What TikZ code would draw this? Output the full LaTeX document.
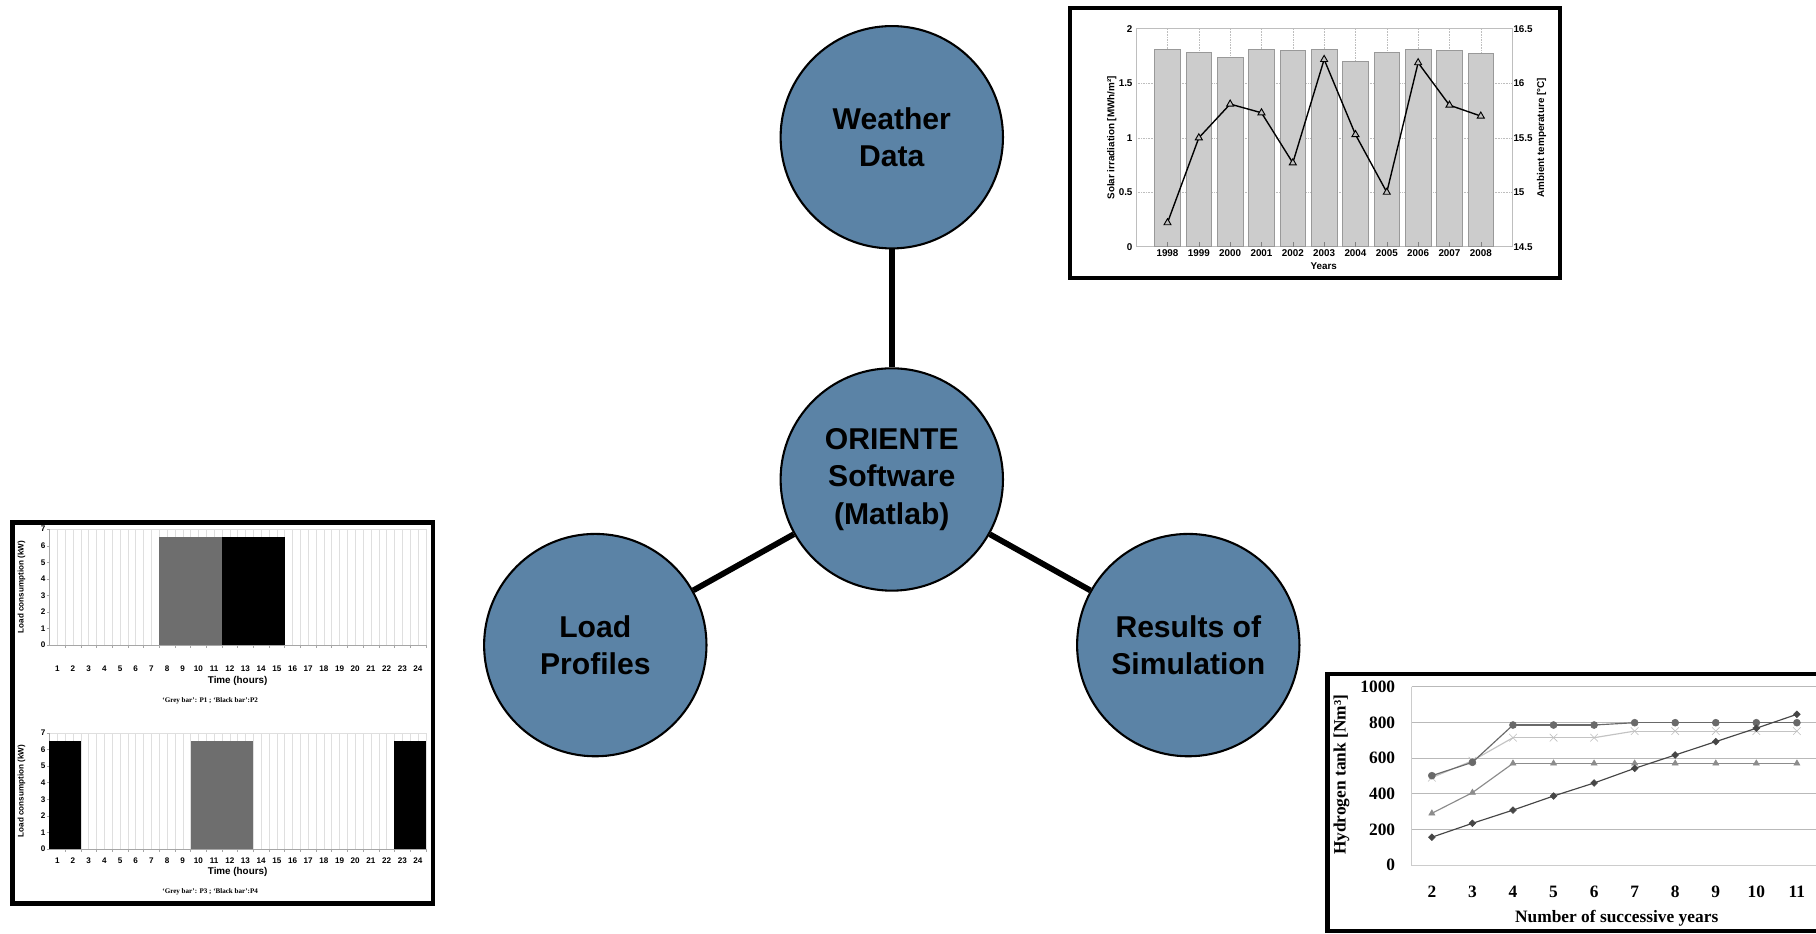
\documentclass[tikz,border=0pt]{standalone}
\usepackage{fontspec}
\setmainfont{Liberation Serif}
\setsansfont{Liberation Sans}
\usetikzlibrary{shapes.geometric,shapes.misc}

\definecolor{bubbleblue}{RGB}{91,131,166}
\definecolor{bargrey}{RGB}{204,204,204}
\definecolor{linegrey}{RGB}{190,190,190}
\definecolor{loadgrey}{RGB}{110,110,110}
\definecolor{hdark}{RGB}{70,70,70}
\definecolor{hmid}{RGB}{105,105,105}
\definecolor{hgrey}{RGB}{140,140,140}
\definecolor{hlight}{RGB}{195,195,195}

\begin{document}
\begin{tikzpicture}[x=1pt,y=-1pt]
	\tikzstyle{bubble} = [circle, minimum size=192pt, inner sep=0pt, draw=black, line width=1.8pt, fill=bubbleblue, align=center, font=\sffamily\bfseries\fontsize{26}{32.5}\selectfont]
	\tikzstyle{link}   = [line width=5pt]
	\tikzstyle{panel}  = [draw=black, line width=4pt, fill=white]
	\tikzstyle{wlabel} = [font=\sffamily\bfseries\fontsize{8.5}{10}\selectfont, inner sep=1pt]
	\tikzstyle{llabel} = [font=\sffamily\bfseries\fontsize{7}{8}\selectfont, inner sep=1pt]
	\tikzstyle{hlabel} = [font=\rmfamily\bfseries\fontsize{15}{18}\selectfont, inner sep=1pt]
	\tikzstyle{tri}    = [regular polygon, regular polygon sides=3, minimum size=7pt, inner sep=0pt, draw, line width=0.8pt]
	\tikzstyle{dia}    = [diamond, minimum size=6pt, inner sep=0pt, draw]
	\tikzstyle{hdot}   = [circle, minimum size=6.5pt, inner sep=0pt, draw]
	\tikzstyle{crs}    = [cross out, minimum size=5pt, inner sep=0pt, draw, line width=0.8pt]

	\useasboundingbox (0,0) rectangle (1568,805.6);

	% bubbles
	\node[bubble] (weather) at (770,118.5) {Weather\\Data};
	\node[bubble] (core)    at (770,414)   {ORIENTE\\Software\\(Matlab)};
	\node[bubble] (load)    at (514,557)   {Load\\Profiles};
	\node[bubble] (results) at (1026,557)  {Results of\\Simulation};

	\foreach \to in {weather, load, results}
		\draw[link] (core) -- (\to);

	% weather chart
	\draw[panel] (924,7) rectangle (1347,240);
	\begin{scope}[shift={(981,213)}, x=27.05pt, y=94pt]
		\foreach \i in {1,...,11}
			\draw[linegrey, densely dotted] (\i,0) -- (\i,2);
		\foreach \v in {0.5,1,1.5}
			\draw[linegrey, densely dotted] (0,\v) -- (12,\v);
		\draw[linegrey, line width=0.8pt] (0,0) rectangle (12,2);
		\foreach \h [count=\i] in {1.81,1.785,1.74,1.81,1.80,1.815,1.70,1.79,1.81,1.80,1.775}{
			\draw[fill=bargrey, draw=gray!80] (\i-0.41,0) rectangle (\i+0.41,\h);
			\draw[gray] (\i,0) -- (\i,0.04);
		}
		\foreach \yr/\t [count=\i] in {1998/14.72, 1999/15.50, 2000/15.81, 2001/15.73, 2002/15.27, 2003/16.22, 2004/15.53, 2005/15.00, 2006/16.19, 2007/15.80, 2008/15.70}{
			\coordinate (tp\i) at (\i,\t-14.5);
			\node[wlabel, below, yshift=-1pt] (yr\i) at (\i,0) {\yr};
		}
		\foreach \i [evaluate=\i as \j using int(\i+1)] in {1,...,10}
			\draw[line width=1.2pt] (tp\i) -- (tp\j);
		\foreach \i in {1,...,11}
			\node[tri, fill=gray!50] at (tp\i) {};
		\foreach \v/\l [count=\k] in {0/0, 0.5/0.5, 1/1, 1.5/1.5, 2/2}
			\node[wlabel, left, xshift=-2pt] (sl\k) at (0,\v) {\l};
		\foreach \v/\l [count=\k] in {0/14.5, 0.5/15, 1/15.5, 1.5/16, 2/16.5}
			\node[wlabel, right] (tr\k) at (12,\v) {\l};
	\end{scope}
	\node[wlabel] (years) at (1143,229.5) {Years};
	\node[wlabel, rotate=90] (irr) at (960,119) {Solar irradiation [MWh/m²]};
	\node[wlabel, rotate=90] (amb) at (1331,119) {Ambient temperature [°C]};

	% load profiles
	\draw[panel] (11,451) rectangle (373.8,780);
	\foreach \base/\hy/\ty/\cy/\pa/\pb in {557/20/31/48/P1/P2, 733/10/19.6/37/P3/P4}{
		\begin{scope}[shift={(42.7,\base)}, x=13.54pt, y=14.3pt]
			\foreach \g in {1,...,48}
				\draw[gray!25] (\g/2,0) -- (\g/2,7);
			\draw[gray!25] (0,7) -- (24,7);
			\draw[gray!70] (0,7) -- (0,0) -- (24,0);
			\foreach \k in {0,...,7}{
				\draw[gray!70] (-0.17,\k) -- (0,\k);
				\node[llabel, left] (kw\base-\k) at (-0.17,\k) {\k};
			}
			\foreach \h in {1,...,24}{
				\draw[gray!70] (\h,0) -- (\h,-0.2);
				\node[llabel, yshift=-\hy pt] (hr\base-\h) at (\h-0.5,0) {\h};
			}
			\node[llabel, font=\sffamily\bfseries\fontsize{8.5}{10}\selectfont, yshift=-\ty pt] (time\base) at (12,0) {Time (hours)};
			\node[llabel, font=\rmfamily\bfseries\fontsize{6.1}{7}\selectfont, yshift=-\cy pt] (cap\base) at (10.25,0) {‘Grey bar’: \pa\ ; ‘Black bar’:\pb};
			\node[llabel, rotate=90] (kwlab\base) at (-1.78,3.5) {Load consumption (kW)};
		\end{scope}
	}
	\foreach \base/\from/\to/\col in {557/7/11/loadgrey, 557/11/15/black, 733/0/2/black, 733/9/13/loadgrey, 733/22/24/black}
		\fill[\col] ({42.7+13.54*\from},\base) rectangle ({42.7+13.54*\to},{\base-6.5*14.3});

	% hydrogen chart
	\draw[panel] (1146,582) rectangle (1580,804);
	\begin{scope}[shift={(1218.8,746.9)}, x=35.02pt, y=0.154pt]
		\foreach \v in {200,400,...,1000}
			\draw[gray!55] (0,\v) -- (10,\v);
		\draw[gray!40] (0,1000) -- (0,0) -- (10,0);
		\foreach \v in {0,200,...,1000}
			\node[hlabel, left, xshift=-13pt] (hv\v) at (0,\v) {\v};
		\foreach \n in {2,...,11}
			\node[hlabel, yshift=-23pt] (hn\n) at (\n-1.5,0) {\n};
		\foreach \s/\col/\mk/\vals in {ht/hgrey/tri/{290,406,570,570,570,570,570,570,570,570}, hx/hlight/crs/{490,585,714,714,714,751,751,751,751,751}, hc/hmid/hdot/{501,576,785,785,785,798,798,798,798,798}, hd/hdark/dia/{156,234,308,387,460,542,617,692,767,845}}{
			\foreach \v [count=\n from 2] in \vals
				\coordinate (\s\n) at (\n-1.5,\v);
			\foreach \n [evaluate=\n as \m using int(\n+1)] in {2,...,10}
				\draw[\col, line width=1pt] (\s\n) -- (\s\m);
			\foreach \n in {2,...,11}
				\node[\mk, \col, fill=\col, line width=0.5pt, minimum size=6pt] at (\s\n) {};
		}
	\end{scope}
	\node[hlabel] (nyears) at (1395.9,792.9) {Number of successive years};
	\node[hlabel, rotate=90] (htank) at (1158.4,669) {Hydrogen tank [Nm³]};
\end{tikzpicture}
\end{document}
